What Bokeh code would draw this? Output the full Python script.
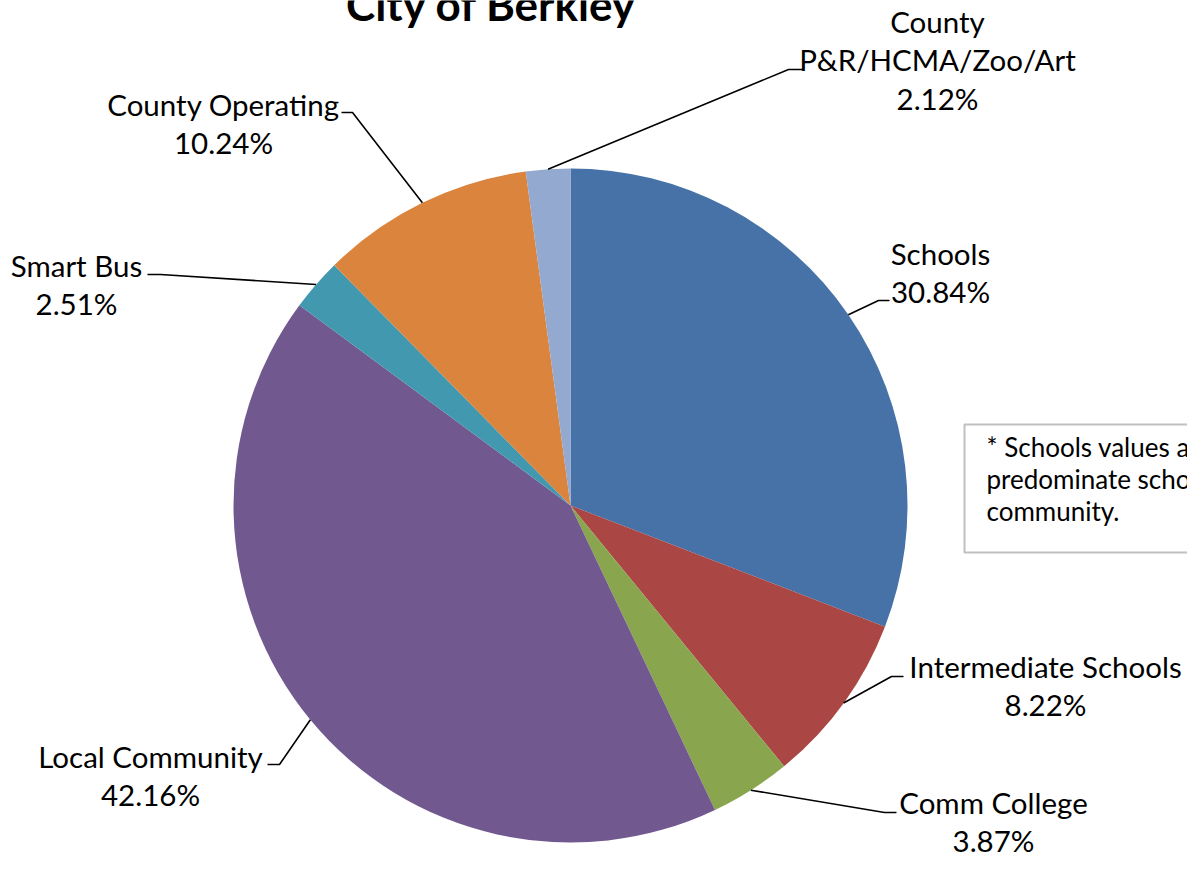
import numpy as np
from bokeh.plotting import figure
from bokeh.models import Range1d
from bokeh.embed import file_html
from bokeh.resources import INLINE
from bokeh.core.properties import value

# ---------------- data ----------------
title = "City of Berkley"
categories = ["Schools", "Intermediate Schools", "Comm College", "Local Community",
              "Smart Bus", "County Operating", "County P&R/HCMA/Zoo/Art"]
label_lines = [["Schools"], ["Intermediate Schools"], ["Comm College"], ["Local Community"],
               ["Smart Bus"], ["County Operating"], ["County", "P&R/HCMA/Zoo/Art"]]
shares = [30.84, 8.22, 3.87, 42.16, 2.51, 10.24, 2.12]
colors = ["#4672A8", "#AA4644", "#89A54E", "#71588F", "#4198AF", "#DB843D", "#93A9CF"]
note_lines = ["* Schools values are based on the",
              "predominate school district in the",
              "community."]

# ---------------- layout (pixel coordinates, y downwards) ----------------
W, H = 1187, 861
CX, CY, R = 570, 505, 337
FONT = "Lato"
LABEL_SIZE = 29.5
LINE_GAP = 38.6
TS = 9.5   # text baseline correction
# per slice: text centre x, first baseline y, elbow x, elbow y, stub end x
label_layout = [
    (940, 262, 878, 300, 889),
    (1045, 675, 891, 676, 903),
    (993, 811, 884, 812, 896),
    (150, 765, 279, 764, 267),
    (76, 274, 160, 274, 147),
    (223, 113, 352, 112, 341),
    (937, 30, 788, 69, 803),
]

def Y(sy):
    return -np.asarray(sy, dtype=float)

p = figure(width=W, height=H, output_backend="svg", toolbar_location=None,
           x_range=Range1d(0, W), y_range=Range1d(-H, 0),
           min_border=0, outline_line_color=None, background_fill_color="white",
           border_fill_color="white")
p.axis.visible = False
p.xgrid.visible = False
p.ygrid.visible = False

# pie slices, clockwise from 12 o'clock
vals = np.array(shares, dtype=float)
frac = vals / vals.sum()
cum_end = np.cumsum(frac)
cum_start = cum_end - frac
ang_start = np.pi / 2 - 2 * np.pi * cum_end
ang_end = np.pi / 2 - 2 * np.pi * cum_start
p.wedge(x=CX, y=-CY, radius=R, start_angle=ang_start, end_angle=ang_end,
        fill_color=colors, line_color=None)

# leader lines and labels
mid = np.pi / 2 - 2 * np.pi * (cum_start + frac / 2)
xs, ys = [], []
tx, ty, tt = [], [], []
for i, (cx_t, by, ex, ey, sx) in enumerate(label_layout):
    px = CX + R * np.cos(mid[i])
    py = CY - R * np.sin(mid[i])
    xs.append([px, ex, sx])
    ys.append(list(Y([py, ey, ey])))
    lines = label_lines[i] + [f"{shares[i]:.2f}%"]
    for k, ln in enumerate(lines):
        tx.append(cx_t)
        ty.append(-(by - TS + k * LINE_GAP))
        tt.append(ln)
p.multi_line(xs=xs, ys=ys, line_color="black", line_width=1.6)
p.text(x=tx, y=ty, text=tt, text_font=value(FONT), text_font_size=f"{LABEL_SIZE}px",
       text_align="center", text_baseline="alphabetic", text_color="black")

# title (partly cut off at the top, as in the source)
p.text(x=[491], y=[-(13 - TS)], text=[title], text_font=value(FONT), text_font_size="44px",
       text_font_style="bold", text_align="center", text_baseline="alphabetic",
       text_color="black")

# note box
p.quad(left=[964], right=[1230], top=[-424], bottom=[-552], fill_color="white",
       line_color="#C0C0C0", line_width=2)
p.text(x=[986] * 3, y=list(Y(np.array([456, 488, 520]) - TS)), text=note_lines,
       text_font=value(FONT), text_font_size="26px", text_align="left",
       text_baseline="alphabetic", text_color="black")

open("out.html", "w").write(file_html(p, INLINE))
